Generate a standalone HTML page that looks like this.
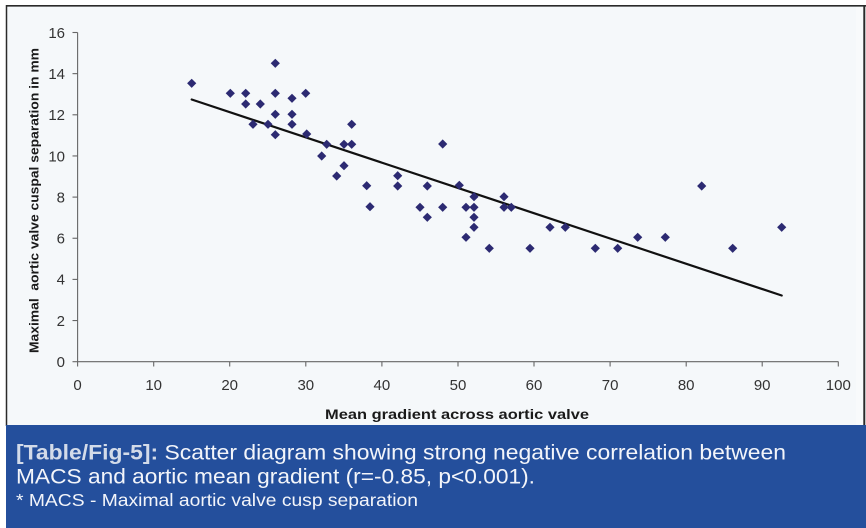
<!DOCTYPE html>
<html>
<head>
<meta charset="utf-8">
<style>
html,body{margin:0;padding:0;background:#ffffff;}
body{width:866px;height:528px;overflow:hidden;}
svg{display:block;}
</style>
</head>
<body>
<svg width="866" height="528" viewBox="0 0 866 528" xmlns="http://www.w3.org/2000/svg">
  <defs>
    <path id="d" d="M0,-4.6 L4.6,0 L0,4.6 L-4.6,0 Z" fill="#2c2a72"/>
  </defs>
  <!-- background -->
  <rect x="0" y="0" width="866" height="528" fill="#ffffff"/>
  <!-- chart frame -->
  <rect x="6" y="5" width="859" height="421" fill="#f5f8fa"/>
  <rect x="856" y="6" width="7" height="419" fill="#f8fafb"/>
  <line x1="6.5" y1="5" x2="6.5" y2="426" stroke="#2a2a2a" stroke-width="1.5"/>
  <line x1="6" y1="5.8" x2="866" y2="5.8" stroke="#2a2a2a" stroke-width="1.6"/>
  <line x1="864.3" y1="5" x2="864.3" y2="426" stroke="#2a2a2a" stroke-width="2"/>

  <!-- caption band -->
  <rect x="6" y="425" width="860" height="103" fill="#244f9c"/>

  <!-- axes -->
  <g stroke="#666" stroke-width="1.1" fill="none">
    <line x1="77.6" y1="32.5" x2="77.6" y2="361.7"/>
    <line x1="77.6" y1="361.7" x2="838.5" y2="361.7"/>
    <!-- y ticks -->
    <line x1="72.5" y1="361.7" x2="77.6" y2="361.7"/>
    <line x1="72.5" y1="320.55" x2="77.6" y2="320.55"/>
    <line x1="72.5" y1="279.4" x2="77.6" y2="279.4"/>
    <line x1="72.5" y1="238.25" x2="77.6" y2="238.25"/>
    <line x1="72.5" y1="197.1" x2="77.6" y2="197.1"/>
    <line x1="72.5" y1="155.95" x2="77.6" y2="155.95"/>
    <line x1="72.5" y1="114.8" x2="77.6" y2="114.8"/>
    <line x1="72.5" y1="73.65" x2="77.6" y2="73.65"/>
    <line x1="72.5" y1="32.5" x2="77.6" y2="32.5"/>
    <!-- x ticks -->
    <line x1="77.6" y1="361.7" x2="77.6" y2="366.5"/>
    <line x1="153.7" y1="361.7" x2="153.7" y2="366.5"/>
    <line x1="229.7" y1="361.7" x2="229.7" y2="366.5"/>
    <line x1="305.8" y1="361.7" x2="305.8" y2="366.5"/>
    <line x1="381.9" y1="361.7" x2="381.9" y2="366.5"/>
    <line x1="458.0" y1="361.7" x2="458.0" y2="366.5"/>
    <line x1="534.0" y1="361.7" x2="534.0" y2="366.5"/>
    <line x1="610.1" y1="361.7" x2="610.1" y2="366.5"/>
    <line x1="686.2" y1="361.7" x2="686.2" y2="366.5"/>
    <line x1="762.2" y1="361.7" x2="762.2" y2="366.5"/>
    <line x1="838.3" y1="361.7" x2="838.3" y2="366.5"/>
  </g>

  <!-- y tick labels -->
  <g font-family="Liberation Sans, Arial, sans-serif" font-size="15" fill="#333" text-anchor="end">
    <text x="65" y="367">0</text>
    <text x="65" y="325.9">2</text>
    <text x="65" y="284.7">4</text>
    <text x="65" y="243.6">6</text>
    <text x="65" y="202.4">8</text>
    <text x="65" y="161.3">10</text>
    <text x="65" y="120.1">12</text>
    <text x="65" y="79">14</text>
    <text x="65" y="37.8">16</text>
  </g>
  <!-- x tick labels -->
  <g font-family="Liberation Sans, Arial, sans-serif" font-size="15" fill="#333" text-anchor="middle">
    <text x="77.6" y="390">0</text>
    <text x="153.7" y="390">10</text>
    <text x="229.7" y="390">20</text>
    <text x="305.8" y="390">30</text>
    <text x="381.9" y="390">40</text>
    <text x="458.0" y="390">50</text>
    <text x="534.0" y="390">60</text>
    <text x="610.1" y="390">70</text>
    <text x="686.2" y="390">80</text>
    <text x="762.2" y="390">90</text>
    <text x="838.3" y="390">100</text>
  </g>

  <!-- axis titles -->
  <text x="325" y="419" font-family="Liberation Sans, Arial, sans-serif" font-size="13.5" font-weight="bold" fill="#1a1a1a" textLength="264" lengthAdjust="spacingAndGlyphs">Mean gradient across aortic valve</text>
  <text transform="translate(38.5,200.5) rotate(-90)" text-anchor="middle" font-family="Liberation Sans, Arial, sans-serif" font-size="12.5" font-weight="bold" fill="#1a1a1a" textLength="305" lengthAdjust="spacingAndGlyphs" xml:space="preserve">Maximal  aortic valve cuspal separation in mm</text>

  <!-- regression line -->
  <line x1="191.7" y1="99.5" x2="781.7" y2="295.5" stroke="#111" stroke-width="2.2" stroke-linecap="round"/>

  <!-- data points -->
  <g>
    <use href="#d" x="191.7" y="83.3"/>
    <use href="#d" x="230.3" y="93.3"/>
    <use href="#d" x="245.7" y="93.3"/>
    <use href="#d" x="275.3" y="63.3"/>
    <use href="#d" x="275.3" y="93.3"/>
    <use href="#d" x="305.7" y="93.3"/>
    <use href="#d" x="292" y="98.3"/>
    <use href="#d" x="245.7" y="104"/>
    <use href="#d" x="260.3" y="104"/>
    <use href="#d" x="275.3" y="114.3"/>
    <use href="#d" x="292" y="114.3"/>
    <use href="#d" x="292" y="124.3"/>
    <use href="#d" x="253" y="124.3"/>
    <use href="#d" x="268" y="124.3"/>
    <use href="#d" x="275.3" y="134.7"/>
    <use href="#d" x="306.7" y="134"/>
    <use href="#d" x="351.7" y="124.3"/>
    <use href="#d" x="326.7" y="144.3"/>
    <use href="#d" x="344" y="144.3"/>
    <use href="#d" x="351.7" y="144.3"/>
    <use href="#d" x="321.7" y="156"/>
    <use href="#d" x="344" y="165.7"/>
    <use href="#d" x="336.7" y="176"/>
    <use href="#d" x="366.7" y="185.7"/>
    <use href="#d" x="370" y="206.7"/>
    <use href="#d" x="442.7" y="144"/>
    <use href="#d" x="397.7" y="175.7"/>
    <use href="#d" x="397.7" y="186"/>
    <use href="#d" x="427.3" y="186"/>
    <use href="#d" x="459.3" y="185.3"/>
    <use href="#d" x="474" y="196.7"/>
    <use href="#d" x="504" y="196.7"/>
    <use href="#d" x="420" y="207.3"/>
    <use href="#d" x="442.7" y="207.3"/>
    <use href="#d" x="466" y="207.3"/>
    <use href="#d" x="474" y="207.3"/>
    <use href="#d" x="504" y="207.3"/>
    <use href="#d" x="511.3" y="207.3"/>
    <use href="#d" x="427.3" y="217.3"/>
    <use href="#d" x="474" y="217.3"/>
    <use href="#d" x="474" y="227.3"/>
    <use href="#d" x="466" y="237.3"/>
    <use href="#d" x="550" y="227.3"/>
    <use href="#d" x="565.3" y="227.3"/>
    <use href="#d" x="489.3" y="248.3"/>
    <use href="#d" x="530" y="248.3"/>
    <use href="#d" x="595.3" y="248.3"/>
    <use href="#d" x="617.7" y="248.3"/>
    <use href="#d" x="637.7" y="237.3"/>
    <use href="#d" x="665.3" y="237.3"/>
    <use href="#d" x="701.7" y="186"/>
    <use href="#d" x="732.7" y="248.3"/>
    <use href="#d" x="781.7" y="227.3"/>
  </g>

  <!-- caption -->
  <text x="16" y="459.3" font-family="Liberation Sans, Arial, sans-serif" font-size="21" fill="#f3f5fa" textLength="770" lengthAdjust="spacingAndGlyphs"><tspan font-weight="bold" fill="#d3dbe9">[Table/Fig-5]:</tspan> Scatter diagram showing strong negative correlation between</text>
  <text x="16" y="483.7" font-family="Liberation Sans, Arial, sans-serif" font-size="21" fill="#f3f5fa" textLength="519" lengthAdjust="spacingAndGlyphs">MACS and aortic mean gradient (r=-0.85, p&lt;0.001).</text>
  <text x="16" y="506" font-family="Liberation Sans, Arial, sans-serif" font-size="17.5" fill="#f3f5fa" textLength="402" lengthAdjust="spacingAndGlyphs">* MACS - Maximal aortic valve cusp separation</text>
</svg>
</body>
</html>
